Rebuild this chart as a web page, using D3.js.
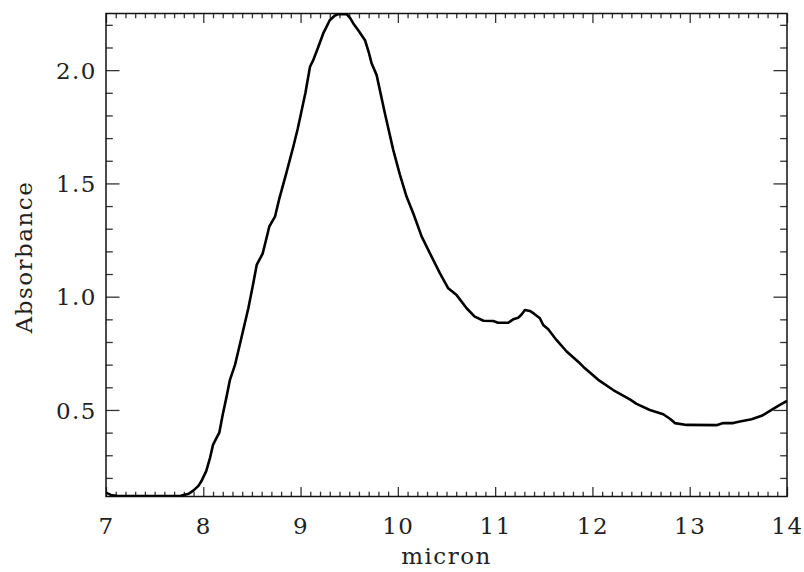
<!DOCTYPE html>
<html>
<head>
<meta charset="utf-8">
<script src="https://cdn.jsdelivr.net/npm/d3@7"></script>
<style>
  html, body { margin: 0; padding: 0; background: #fff; }
  svg { display: block; }
  .lbl { font-family: "DejaVu Serif", serif; font-size: 23px; fill: #222; letter-spacing: 1.5px; }
</style>
</head>
<body>
<svg id="chart" width="804" height="572"></svg>
<script>
// wavelength (micron)
const micron = [7.00, 7.05, 7.12, 7.30, 7.50, 7.70, 7.77, 7.85, 7.90, 7.95, 7.98, 8.03, 8.07, 8.10, 8.14, 8.165,
  8.20, 8.24, 8.274, 8.326, 8.36, 8.395, 8.463, 8.51, 8.549, 8.61, 8.645, 8.678, 8.737, 8.778, 8.85, 8.925,
  8.97, 9.01, 9.05, 9.097, 9.13, 9.18, 9.233, 9.30, 9.35, 9.387, 9.473, 9.51, 9.542, 9.593, 9.662, 9.70,
  9.731, 9.782, 9.867, 9.953, 10.02, 10.09, 10.158, 10.245, 10.33, 10.433, 10.518, 10.604, 10.707, 10.79,
  10.88, 10.98, 11.03, 11.135, 11.186, 11.237, 11.27, 11.306, 11.357, 11.40, 11.46, 11.494, 11.546, 11.63,
  11.735, 11.871, 11.905, 12.06, 12.214, 12.385, 12.454, 12.59, 12.728, 12.80, 12.848, 12.968, 13.276,
  13.345, 13.447, 13.516, 13.636, 13.74, 13.824, 13.927, 14.00];
// absorbance
const absorbance = [0.135, 0.125, 0.120, 0.120, 0.120, 0.120, 0.121, 0.130, 0.145, 0.165, 0.185, 0.230, 0.290, 0.346, 0.380, 0.400,
  0.480, 0.560, 0.633, 0.699, 0.760, 0.824, 0.949, 1.050, 1.140, 1.190, 1.250, 1.309, 1.353, 1.427, 1.540, 1.662,
  1.740, 1.820, 1.900, 2.015, 2.044, 2.100, 2.162, 2.220, 2.240, 2.247, 2.247, 2.230, 2.206, 2.176, 2.132, 2.080,
  2.029, 1.978, 1.809, 1.647, 1.540, 1.441, 1.368, 1.265, 1.191, 1.103, 1.037, 1.007, 0.949, 0.912,
  0.894, 0.893, 0.885, 0.885, 0.900, 0.907, 0.920, 0.941, 0.937, 0.925, 0.905, 0.875, 0.856, 0.809,
  0.758, 0.706, 0.691, 0.633, 0.588, 0.547, 0.527, 0.500, 0.481, 0.460, 0.442, 0.434, 0.433,
  0.442, 0.442, 0.449, 0.459, 0.474, 0.496, 0.522, 0.540];

const xMajor = [7, 8, 9, 10, 11, 12, 13, 14];
const xTickLabels = ["7", "8", "9", "10", "11", "12", "13", "14"];
const yMajor = [0.5, 1.0, 1.5, 2.0];
const yTickLabels = ["0.5", "1.0", "1.5", "2.0"];
const xTitle = "micron";
const yTitle = "Absorbance";

const svg = d3.select("#chart");
const L = 106, R = 787, T = 13.5, B = 496.5;
const x = d3.scaleLinear().domain([7, 14]).range([L, R]);
const y = d3.scaleLinear().domain([0.118, 2.25]).range([B, T]);

const xMinor = d3.range(70, 141).map(d => d / 10).filter(d => !xMajor.includes(d));
const yMinor = d3.range(2, 23).map(d => d / 10).filter(d => !yMajor.some(m => Math.abs(m - d) < 1e-9));

const xMajLen = 9.5, xMinLen = 4.8, yMajLen = 13.5, yMinLen = 6.8;
const tickColor = "#333";

// bottom axis
const gB = svg.append("g").attr("transform", `translate(0,${B})`);
gB.call(d3.axisBottom(x).tickValues(xMajor).tickSize(-xMajLen).tickFormat((d, i) => xTickLabels[i]).tickPadding(0));
gB.append("g").call(d3.axisBottom(x).tickValues(xMinor).tickSize(-xMinLen).tickFormat(""));
// top axis
const gT = svg.append("g").attr("transform", `translate(0,${T})`);
gT.call(d3.axisTop(x).tickValues(xMajor).tickSize(-xMajLen).tickFormat(""));
gT.append("g").call(d3.axisTop(x).tickValues(xMinor).tickSize(-xMinLen).tickFormat(""));
// left axis
const gL = svg.append("g").attr("transform", `translate(${L},0)`);
gL.call(d3.axisLeft(y).tickValues(yMajor).tickSize(-yMajLen).tickFormat((d, i) => yTickLabels[i]));
gL.append("g").call(d3.axisLeft(y).tickValues(yMinor).tickSize(-yMinLen).tickFormat(""));
// right axis
const gR = svg.append("g").attr("transform", `translate(${R},0)`);
gR.call(d3.axisRight(y).tickValues(yMajor).tickSize(-yMajLen).tickFormat(""));
gR.append("g").call(d3.axisRight(y).tickValues(yMinor).tickSize(-yMinLen).tickFormat(""));

svg.selectAll(".domain").remove();
svg.selectAll(".tick line").attr("stroke", tickColor).attr("stroke-width", 1.3);

// tick labels
gB.selectAll(".tick text").attr("class", "lbl").attr("y", 0).attr("dy", 0)
  .attr("transform", "translate(0,37)").attr("text-anchor", "middle");
gL.selectAll(".tick text").attr("class", "lbl").attr("x", -9).attr("dy", "0.36em").attr("text-anchor", "end");

// frame
svg.append("rect").attr("x", L).attr("y", T).attr("width", R - L).attr("height", B - T)
  .attr("fill", "none").attr("stroke", "#111").attr("stroke-width", 1.5);

// clip
svg.append("clipPath").attr("id", "clip").append("rect")
  .attr("x", L).attr("y", T - 1).attr("width", R - L).attr("height", B - T + 1);

const data = micron.map((m, i) => [m, absorbance[i]]);
svg.append("path").datum(data)
  .attr("clip-path", "url(#clip)")
  .attr("fill", "none").attr("stroke", "#000").attr("stroke-width", 2.6)
  .attr("stroke-linejoin", "round")
  .attr("d", d3.line().x(d => x(d[0])).y(d => y(d[1])));

// titles
svg.append("text").attr("class", "lbl").attr("x", (L + R) / 2).attr("y", 564)
  .attr("text-anchor", "middle").text(xTitle);
svg.append("text").attr("class", "lbl")
  .attr("transform", `translate(32,${(T + B) / 2 + 2}) rotate(-90)`)
  .attr("text-anchor", "middle").text(yTitle);
</script>
</body>
</html>
